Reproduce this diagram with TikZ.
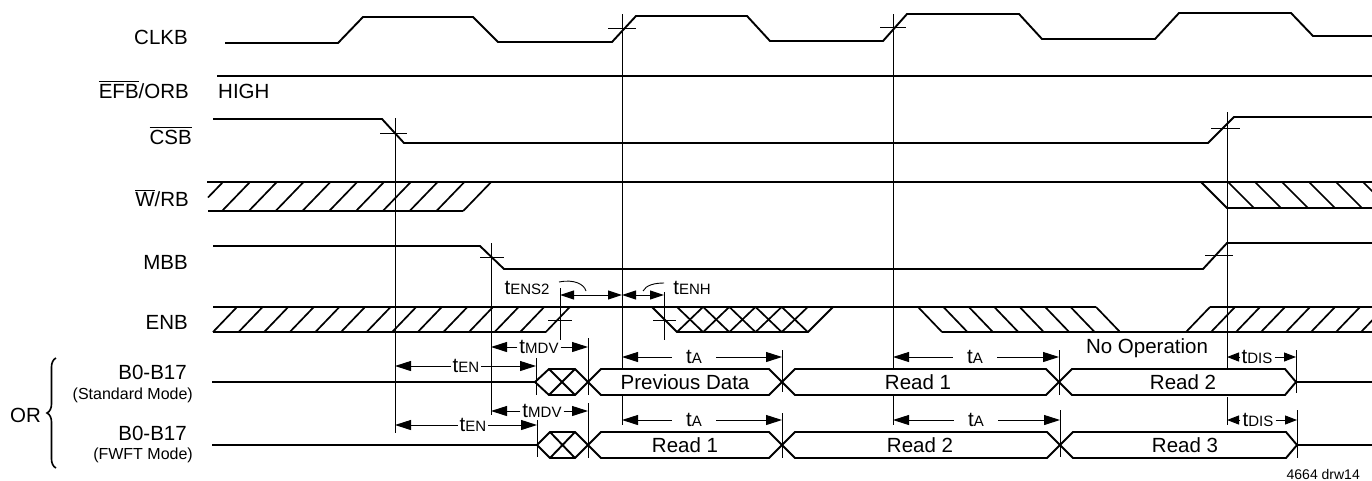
\documentclass[tikz,border=0pt]{standalone}
\usepackage{fontspec}
\setmainfont{Liberation Sans}
\usetikzlibrary{arrows.meta,decorations.pathreplacing}
\newcommand\ovl[1]{\vbox{\hrule height 1.2pt\kern 2pt\hbox{#1}}}
\newcommand\tsub[1]{t{\fontsize{15}{15}\selectfont #1}}
\begin{document}
\begin{tikzpicture}[x=1pt,y=-1pt,
  sig/.style={line width=1.9pt},
  vl/.style={line width=0.9pt},
  hat/.style={line width=1.7pt},
  dimA/.style={line width=1pt,-{Triangle[length=16pt,width=10pt]}},
  dimB/.style={line width=1pt,-{Triangle[length=12pt,width=9pt]}},
  dimC/.style={line width=1pt,{Triangle[length=14pt,width=9pt]}-{Triangle[length=14pt,width=9pt]}},
  lab/.style={anchor=base east,inner sep=0pt,font=\fontsize{20.5}{24}\selectfont},
  sublab/.style={anchor=base east,inner sep=0pt,font=\fontsize{16}{19}\selectfont},
  tm/.style={inner sep=0pt,inner xsep=2pt,font=\fontsize{20.5}{24}\selectfont},
  ta/.style={tm,inner xsep=14pt},
  dat/.style={anchor=base,inner sep=0pt,font=\fontsize{20.5}{24}\selectfont},
]
\useasboundingbox (0,0) rectangle (1372,480);
\clip (0,0) rectangle (1372,480);

% ---------- signal names ----------
\node[lab] (nCLK) at (188,44.3) {CLKB};
\node[lab] (nEFB) at (189,98.3) {\ovl{EFB}/ORB};
\node[lab] (nCSB) at (192,144.8) {\ovl{CSB}};
\node[lab] (nWRB) at (189,206.8) {\ovl{W}/RB};
\node[lab] (nMBB) at (188,269.3) {MBB};
\node[lab] (nENB) at (188,329.3) {ENB};
\node[lab] (nB1) at (187,379.8) {B0-B17};
\node[sublab] (nB1m) at (193,399) {(Standard Mode)};
\node[lab] (nB2) at (187,440.3) {B0-B17};
\node[sublab] (nB2m) at (193,459) {(FWFT Mode)};
\node[lab,anchor=base west] (nOR) at (10,422.3) {OR};
\draw[line width=1.6pt,decorate,decoration={brace,amplitude=9pt}] (56,468) -- (56,358);
\node[dat,anchor=base west] (nHIGH) at (218,98.3) {HIGH};

% ---------- CLKB ----------
\draw[sig] (225,43) -- (338,43) -- (363,17) -- (473,17) -- (498,42) -- (612,42)
  -- (636,16) -- (747,16) -- (770,41) -- (883,41) -- (907,14) -- (1019,14)
  -- (1042,39) -- (1155,39) -- (1179,13) -- (1291,13) -- (1313,36) -- (1372,36);
% ---------- EFB/ORB ----------
\draw[sig] (217,76) -- (1372,76);
% ---------- CSB ----------
\draw[sig] (213,119) -- (382,119) -- (404,143) -- (1208,143) -- (1234,117) -- (1372,117);
% ---------- W/RB ----------
\draw[sig] (207,182) -- (1372,182);
\draw[sig] (208,211) -- (463,211);
\draw[hat] (208,197.5) -- (223,182);
\foreach \k in {0,...,9}{\draw[hat] ({222+26.8*\k},211) -- ({250+26.8*\k},182);}
\draw[sig] (1201,182) -- (1227,208) -- (1372,208);
\foreach \k in {0,...,5}{\draw[hat] ({1228+27*\k},182) -- ({1254+27*\k},208);}
% ---------- MBB ----------
\draw[sig] (213,246) -- (480,246) -- (504,269) -- (1203,269) -- (1227,243) -- (1372,243);
% ---------- ENB ----------
\draw[sig] (213,307) -- (1096,307);
\draw[sig] (1210,307) -- (1372,307);
\draw[sig] (213,332) -- (546,332);
\foreach \k in {0,...,13}{\draw[hat] ({213+25.6*\k},332) -- ({237+25.6*\k},307);}
\draw[sig] (652,307) -- (677,332) -- (808,332) -- (833,307);
\foreach \k in {0,...,4}{
  \draw[hat] ({677+26.2*\k},307) -- ({703+26.2*\k},332);
  \draw[hat] ({677+26.2*\k},332) -- ({703+26.2*\k},307);}
\draw[sig] (942,332) -- (1372,332);
\foreach \k in {0,...,7}{\draw[hat] ({918+25.43*\k},307) -- ({942+25.43*\k},332);}
\foreach \k in {0,...,7}{\draw[hat] ({1186+25*\k},332) -- ({1210+25*\k},307);}

% ---------- B0-B17 standard ----------
\draw[sig] (212,382) -- (535,382);
\draw[sig] (535,382) -- (549,369) -- (575,369) -- (588,382) -- (575,395) -- (549,395) -- cycle;
\draw[sig] (549,369) -- (575,395) (549,395) -- (575,369);
\draw[sig] (588,382) -- (601,369) -- (769,369) -- (782,382) -- (769,395) -- (601,395) -- cycle;
\draw[sig] (782,382) -- (795,369) -- (1046,369) -- (1059,382) -- (1046,395) -- (795,395) -- cycle;
\draw[sig] (1059,382) -- (1072,369) -- (1285,369) -- (1296,382) -- (1285,395) -- (1072,395) -- cycle;
\draw[sig] (1296,382) -- (1372,382);
\node[dat] (dPrev) at (685,389.3) {Previous Data};
\node[dat] (dR1a) at (918,389.3) {Read 1};
\node[dat] (dR2a) at (1183,389.3) {Read 2};
% ---------- B0-B17 FWFT ----------
\draw[sig] (212,445) -- (537,445);
\draw[sig] (537,445) -- (550,432) -- (575,432) -- (588,445) -- (575,458) -- (550,458) -- cycle;
\draw[sig] (550,432) -- (575,458) (550,458) -- (575,432);
\draw[sig] (588,445) -- (601,432) -- (769,432) -- (782,445) -- (769,458) -- (601,458) -- cycle;
\draw[sig] (782,445) -- (795,432) -- (1047,432) -- (1060,445) -- (1047,458) -- (795,458) -- cycle;
\draw[sig] (1060,445) -- (1073,432) -- (1286,432) -- (1297,445) -- (1286,458) -- (1073,458) -- cycle;
\draw[sig] (1297,445) -- (1372,445);
\node[dat] (dR1b) at (685,452.3) {Read 1};
\node[dat] (dR2b) at (920,452.3) {Read 2};
\node[dat] (dR3b) at (1185,452.3) {Read 3};
\node[dat] (dNop) at (1147,353.5) {No Operation};

% ---------- reference lines ----------
\draw[vl] (395,118) -- (395,433);
\draw[vl] (491,243) -- (491,415);
\draw[vl] (622,14) -- (622,368) (622,395) -- (622,425);
\draw[vl] (893,14) -- (893,368) (893,395) -- (893,425);
\draw[vl] (1227,112) -- (1227,368) (1227,397) -- (1227,425);
\draw[vl] (560,288) -- (560,340);
\draw[vl] (664,292) -- (664,340);
\draw[vl] (536,358) -- (536,395) (537,420) -- (537,457);
\draw[vl] (588,338) -- (588,395) (588,403) -- (588,458);
\draw[vl] (782,350) -- (782,392) (782,413) -- (782,458);
\draw[vl] (1059,350) -- (1059,395) (1060,410) -- (1060,457);
\draw[vl] (1296,350) -- (1296,393) (1297,410) -- (1297,458);
% crossing ticks
\draw[vl] (608,28) -- (636,28) (880,27) -- (906,27);
\draw[vl] (380,133) -- (407,133) (1211,128) -- (1240,128);
\draw[vl] (480,257) -- (504,257) (1205,255) -- (1233,255);
\draw[vl] (548,320) -- (572,320) (653,320) -- (676,320);

% ---------- timing parameters ----------
\node[tm] (tENS2) at (527,288) {\tsub{ENS2}};
\draw[vl] (559,282) .. controls (574,279) and (584,284) .. (586,291);
\coordinate (s2L) at (560,295); \coordinate (s2R) at (622,295);
\draw[dimC] (s2L) -- (s2R);
\node[tm] (tENH) at (692,288) {\tsub{ENH}};
\draw[vl] (643,291) .. controls (646,285) and (655,283) .. (664,283);
\coordinate (hR) at (664,295);
\draw[dimC] (s2R) -- (hR);

\node[tm] (tEN1) at (466,366) {\tsub{EN}};
\draw[dimA] (tEN1.west) -- (395,366); \draw[dimA] (tEN1.east) -- (536,366);
\node[tm] (tMDV1) at (539,347) {\tsub{MDV}};
\draw[dimA] (tMDV1.west) -- (491,347); \draw[dimA] (tMDV1.east) -- (588,347);
\node[ta] (tA1) at (694,357) {\tsub{A}};
\draw[dimA] (tA1.west) -- (622,357); \draw[dimA] (tA1.east) -- (782,357);
\node[ta] (tA2) at (975,357) {\tsub{A}};
\draw[dimA] (tA2.west) -- (893,357); \draw[dimA] (tA2.east) -- (1059,357);
\node[tm] (tDIS1) at (1257,357) {\tsub{DIS}};
\draw[dimB] (tDIS1.west) -- (1227,357); \draw[dimB] (tDIS1.east) -- (1296,357);

\node[tm] (tEN2) at (473,425) {\tsub{EN}};
\draw[dimA] (tEN2.west) -- (395,425); \draw[dimA] (tEN2.east) -- (537,425);
\node[tm] (tMDV2) at (542,411) {\tsub{MDV}};
\draw[dimA] (tMDV2.west) -- (491,411); \draw[dimA] (tMDV2.east) -- (588,411);
\node[ta] (tA3) at (694,420) {\tsub{A}};
\draw[dimA] (tA3.west) -- (622,420); \draw[dimA] (tA3.east) -- (782,420);
\node[ta] (tA4) at (976,420) {\tsub{A}};
\draw[dimA] (tA4.west) -- (893,420); \draw[dimA] (tA4.east) -- (1060,420);
\node[tm] (tDIS2) at (1258,420) {\tsub{DIS}};
\draw[dimB] (tDIS2.west) -- (1227,420); \draw[dimB] (tDIS2.east) -- (1297,420);

\node[anchor=base east,inner sep=0pt,font=\fontsize{14}{16}\selectfont] (drw) at (1360,479) {4664 drw14};
\end{tikzpicture}
\end{document}
